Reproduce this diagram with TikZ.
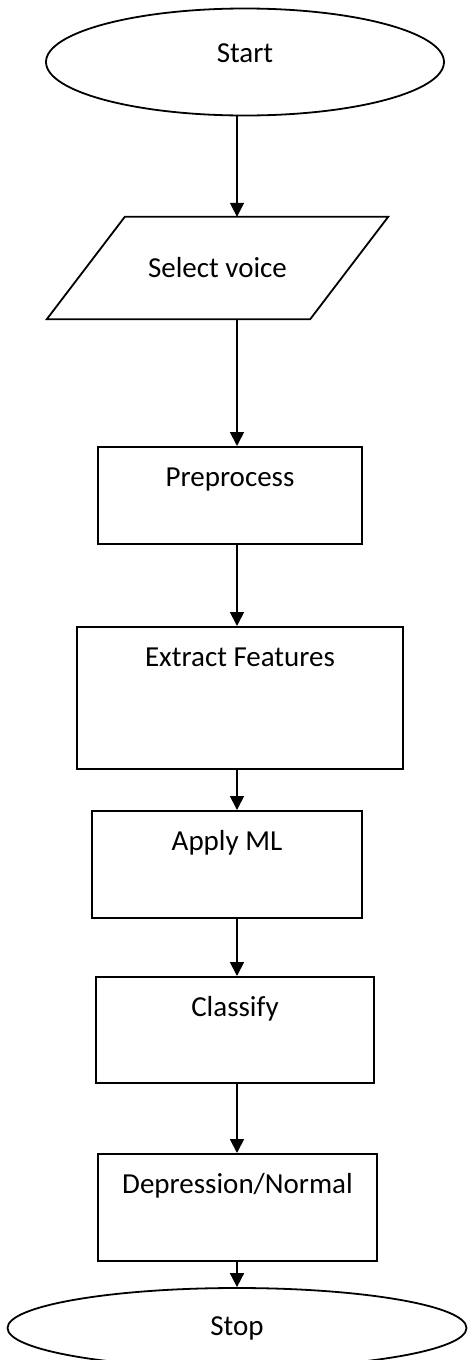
\documentclass[tikz,border=0pt]{standalone}
\usepackage{fontspec}
\setmainfont{Carlito}
\usetikzlibrary{shapes.geometric,arrows.meta}

\tikzset{
  every node/.style={font=\fontsize{29}{34}\selectfont},
  terminal/.style={draw, ellipse, line width=1.8pt, inner sep=0pt},
  % the slanted sides are drawn round this one by hand
  inout/.style={rectangle, inner sep=0pt,
    minimum width=263pt, minimum height=102pt},
  % width of the box, then how far it reaches below the text
  process/.style 2 args={draw, rectangle, line width=1.8pt, inner sep=0pt,
    anchor=north, minimum width=#1, text height=40pt, text depth=#2},
}

\begin{document}
\begin{tikzpicture}[x=1pt,y=-1pt]
  \useasboundingbox (0,0) rectangle (469,1360);
  \coordinate (axis) at (237,0);

  \node[terminal, minimum width=398pt, minimum height=107pt, text depth=18pt] (start) at (245,62) {Start};
  \node[inout] (sel) at (217.5,268) {Select voice};
  \draw[line width=1.8pt]
    ([xshift=39pt]sel.north west) -- ([xshift=39pt]sel.north east)
    -- ([xshift=-39pt]sel.south east) -- ([xshift=-39pt]sel.south west) -- cycle;
  \node[process={264pt}{57pt}] (pre) at (230,446) {Preprocess};
  \node[process={326pt}{102pt}] (feat) at (240,626) {Extract Features};
  \node[process={270pt}{67pt}] (ml) at (227,810) {Apply ML};
  \node[process={278pt}{66pt}] (cls) at (235,976) {Classify};
  \node[process={279pt}{67pt}] (res) at (237.5,1153) {Depression/Normal};
  \node[terminal, minimum width=459pt, minimum height=80pt] (stop) at (237,1328) {Stop};

  \path[-{Triangle[length=14pt,width=14pt]}, line width=1.8pt]
    (start.south -| axis) edge (sel.north -| axis)
    (sel.south -| axis) edge (pre.north -| axis)
    (pre.south -| axis) edge (feat.north -| axis)
    (feat.south -| axis) edge (ml.north -| axis)
    (ml.south -| axis) edge (cls.north -| axis)
    (cls.south -| axis) edge (res.north -| axis)
    (res.south -| axis) edge (stop.north -| axis);

\end{tikzpicture}
\end{document}
